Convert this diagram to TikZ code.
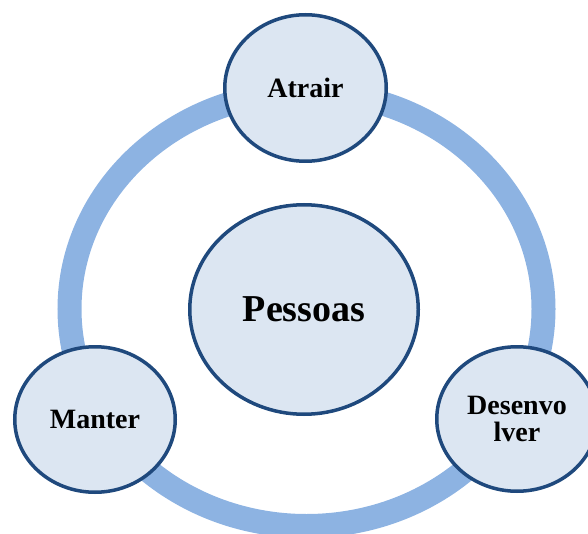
\documentclass[tikz,border=0pt]{standalone}
\usepackage{fontspec}
\setmainfont{Liberation Serif}
\usetikzlibrary{shapes.geometric}
\definecolor{ringblue}{RGB}{141,179,226}
\definecolor{fillblue}{RGB}{220,230,242}
\definecolor{edgeblue}{RGB}{31,73,125}
\tikzset{
  bubble/.style={ellipse, draw=edgeblue, fill=fillblue, line width=3.5pt,
    inner sep=0pt, align=center, font=\bfseries},
  ringpath/.style={draw=ringblue, line width=24pt}
}
\begin{document}
\begin{tikzpicture}[x=1pt,y=-1pt]
\useasboundingbox (0,0) rectangle (588,534);
\clip (0,0) rectangle (588,534);
\draw[ringpath] (306.5,309) ellipse [x radius=237, y radius=217];
\node[bubble, minimum width=228.5pt, minimum height=209.5pt,
  font=\bfseries\fontsize{38}{38}\selectfont] (pessoas) at (304,309.5) {Pessoas};
\node[bubble, minimum width=161.5pt, minimum height=146.5pt,
  font=\bfseries\fontsize{28}{28}\selectfont] (atrair) at (305.5,88) {Atrair};
\node[bubble, minimum width=160.5pt, minimum height=145.5pt,
  font=\bfseries\fontsize{28}{28}\selectfont] (manter) at (95,419.5) {Manter};
\node[bubble, minimum width=160.5pt, minimum height=144.5pt,
  font=\bfseries\fontsize{28}{27}\selectfont] (desenv) at (517,419) {Desenvo\\lver};
\end{tikzpicture}
\end{document}
